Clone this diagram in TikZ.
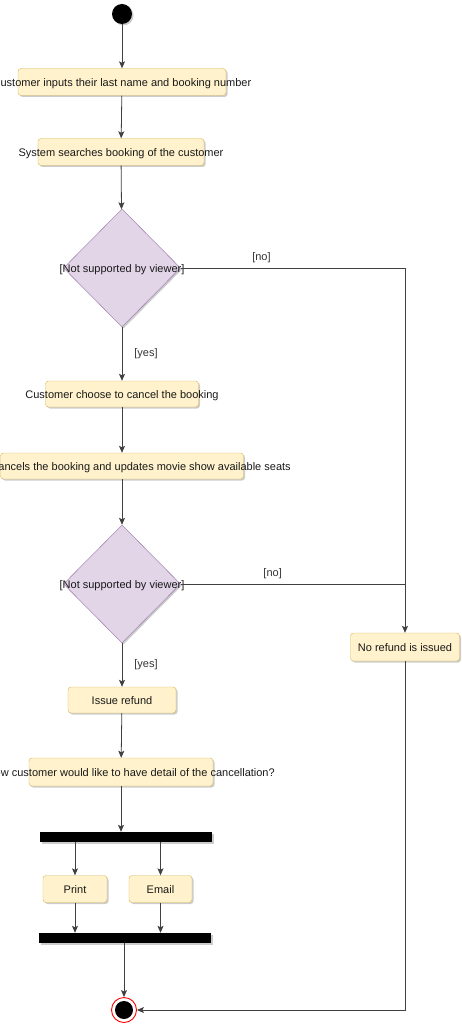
\documentclass[tikz,border=0pt]{standalone}
\usepackage{fontspec}
\setmainfont{Liberation Sans}
\usepackage{xcolor}
\usetikzlibrary{arrows.meta,shapes.geometric,shadows}
\definecolor{actfill}{HTML}{FFF2CC}
\definecolor{actdraw}{HTML}{D6B656}
\definecolor{decfill}{HTML}{E1D5E7}
\definecolor{decdraw}{HTML}{9673A6}

\begin{document}
\begin{tikzpicture}[x=1pt, y=-1pt,
    font=\fontsize{11}{13}\selectfont,
    shade/.style={drop shadow={shadow xshift=1.5pt, shadow yshift=-1.5pt, opacity=0.2, fill=black}},
    act/.style={draw=actdraw, fill=actfill, rounded corners=3pt, inner sep=0pt, minimum height=27pt,
        text height=10pt, text depth=1.5pt, text=black!90, shade},
    dec/.style={diamond, draw=decdraw, fill=decfill, inner sep=0pt, minimum width=117pt, minimum height=118pt,
        text height=10pt, text depth=1.5pt, text=black!90, shade},
    bar/.style={fill=black, inner sep=0pt, minimum height=10pt, shade},
    wire/.style={draw=black!75, line width=0.8pt},
    flow/.style={wire, -{Stealth[length=7pt, width=6pt, inset=1.5pt]}},
    lbl/.style={inner sep=0pt, text=black!80}]
    \useasboundingbox (0,0) rectangle (462,1024);

    \node[circle, fill=black, minimum size=20pt, inner sep=0pt, shade] (start) at (122,14) {};
    \node[act, minimum width=208pt] (input) at (122,82) {\makebox[0pt]{Customer inputs their last name and booking number}};
    \node[act, minimum width=166pt] (search) at (121,152) {\makebox[0pt]{System searches booking of the customer}};
    \node[dec] (found) at (122,268) {\makebox[0pt]{[Not supported by viewer]}};
    \node[act, minimum width=153pt, minimum height=26pt] (choose) at (122,394) {\makebox[0pt]{Customer choose to cancel the booking}};
    \node[act, minimum width=243pt, minimum height=26pt] (cancel) at (122,466) {\makebox[0pt]{System cancels the booking and updates movie show available seats}};
    \node[dec] (eligible) at (122,584) {\makebox[0pt]{[Not supported by viewer]}};
    \node[act, minimum width=109pt, minimum height=28pt] (norefund) at (405,647) {No refund is issued};
    \node[act, minimum width=108pt, minimum height=26pt] (refund) at (122,700) {Issue refund};
    \node[act, minimum width=184pt, minimum height=28pt] (detail) at (121,772) {\makebox[0pt]{Ask how customer would like to have detail of the cancellation?}};
    \node[bar, minimum width=172pt] (fork) at (126,837) {};
    \node[act, minimum width=64pt] (print) at (75,889) {Print};
    \node[act, minimum width=63pt] (email) at (160.5,889) {Email};
    \node[bar, minimum width=172pt] (join) at (125,938) {};
    \node[circle, draw=red, line width=0.9pt, fill=white, minimum size=25pt, inner sep=0pt,
        path picture={\fill[black] (path picture bounding box.center) circle (9pt);}] (finish) at (124,1010) {};

    \draw[flow] (start) -- (input);
    \draw[flow] (input) -- (search);
    \draw[flow] (search) -- (found);
    \draw[flow] (found) -- node[lbl, right=12pt]{[yes]} (choose);
    \draw[flow] (found) -| node[lbl, pos=0.18, above=5pt]{[no]} (norefund);
    \draw[flow] (choose) -- (cancel);
    \draw[flow] (cancel) -- (eligible);
    \draw[flow] (eligible) -- node[lbl, right=12pt]{[yes]} (refund);
    \draw[wire] (eligible) -- node[lbl, pos=0.41, above=5pt]{[no]} (eligible -| norefund);
    \draw[flow] (refund) -- (detail);
    \draw[flow] (detail) -- (detail |- fork.north);
    \draw[flow] (print |- fork.south) -- (print);
    \draw[flow] (email |- fork.south) -- (email);
    \draw[flow] (print) -- (print |- join.north);
    \draw[flow] (email) -- (email |- join.north);
    \draw[flow] (finish |- join.south) -- (finish);
    \draw[flow] (norefund) |- (finish);
\end{tikzpicture}
\end{document}
